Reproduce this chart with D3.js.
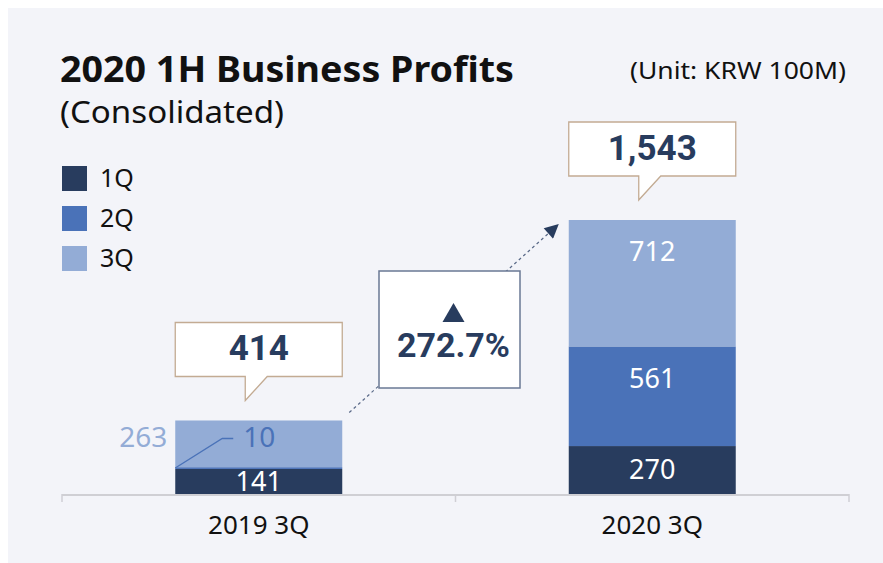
<!DOCTYPE html>
<html>
<head>
<meta charset="utf-8">
<script src="https://cdn.jsdelivr.net/npm/d3@7"></script>
<style>
  html, body { margin: 0; padding: 0; background: #fff; }
  svg { display: block; }
</style>
</head>
<body>
<div id="chart"></div>
<script>
const periods = ["2019 3Q", "2020 3Q"];
const quarters = ["1Q", "2Q", "3Q"];
const q1 = [141, 270];
const q2 = [10, 561];
const q3 = [263, 712];
const totals = ["414", "1,543"];
const growth = "272.7%";
const colors = ["#283c5e", "#4a72b8", "#93acd6"];

const W = 883, H = 563;
const baseY = 494, topY = 220;

const svg = d3.select("#chart").append("svg")
    .attr("width", W)
    .attr("height", H);

svg.append("rect")
    .attr("x", 8).attr("y", 8)
    .attr("width", W - 8).attr("height", H - 8)
    .attr("fill", "#f3f4f9");

const x = d3.scaleBand()
    .domain(periods)
    .range([62, 849])
    .paddingInner(0.5756)
    .paddingOuter(0.2878);

const rows = periods.map((p, i) => ({period: p, "1Q": q1[i], "2Q": q2[i], "3Q": q3[i]}));
const stacked = d3.stack().keys(quarters)(rows);
const maxTotal = d3.max(stacked[stacked.length - 1], d => d[1]);

const y = d3.scaleLinear()
    .domain([0, maxTotal])
    .range([baseY, topY]);

// title block
svg.append("text")
    .attr("x", 60).attr("y", 82)
    .attr("font-family", "Noto Sans")
    .attr("font-weight", 700)
    .attr("font-size", 36)
    .attr("fill", "#111")
    .attr("textLength", 454)
    .attr("lengthAdjust", "spacingAndGlyphs")
    .text("2020 1H Business Profits");

svg.append("text")
    .attr("x", 60).attr("y", 123)
    .attr("font-family", "Noto Sans")
    .attr("font-size", 31)
    .attr("fill", "#111")
    .attr("textLength", 224)
    .attr("lengthAdjust", "spacingAndGlyphs")
    .text("(Consolidated)");

svg.append("text")
    .attr("x", 846).attr("y", 79)
    .attr("text-anchor", "end")
    .attr("font-family", "Noto Sans")
    .attr("font-size", 23)
    .attr("fill", "#111")
    .attr("textLength", 216)
    .attr("lengthAdjust", "spacingAndGlyphs")
    .text("(Unit: KRW 100M)");

// legend
const legend = svg.append("g").attr("transform", "translate(62,166)");
quarters.forEach((q, i) => {
    const g = legend.append("g").attr("transform", `translate(0, ${i * 40})`);
    g.append("rect").attr("width", 25).attr("height", 25).attr("fill", colors[i]);
    g.append("text")
        .attr("x", 38).attr("y", 21)
        .attr("font-family", "Noto Sans")
        .attr("font-size", 25)
        .attr("fill", "#111")
        .text(q);
});

// axis line with ticks at band boundaries
const bounds = [x.range()[0]]
    .concat(periods.slice(1).map(p => x(p) - x.step() * x.paddingInner() / 2))
    .concat([x.range()[1]]);

svg.append("line")
    .attr("x1", x.range()[0]).attr("x2", x.range()[1])
    .attr("y1", baseY + 1).attr("y2", baseY + 1)
    .attr("stroke", "#cfcfd4").attr("stroke-width", 2);

svg.selectAll(".tick")
    .data(bounds)
    .join("line")
    .attr("x1", d => d).attr("x2", d => d)
    .attr("y1", baseY).attr("y2", baseY + 8)
    .attr("stroke", "#cfcfd4").attr("stroke-width", 1.5);

svg.selectAll(".xlab")
    .data(periods)
    .join("text")
    .attr("x", d => x(d) + x.bandwidth() / 2)
    .attr("y", 534)
    .attr("text-anchor", "middle")
    .attr("font-family", "Noto Sans")
    .attr("font-size", 26)
    .attr("fill", "#111")
    .text(d => d);

// stacked bars
const layers = svg.selectAll(".layer")
    .data(stacked)
    .join("g")
    .attr("fill", (d, i) => colors[i]);

layers.selectAll("rect")
    .data(d => d)
    .join("rect")
    .attr("x", d => x(d.data.period))
    .attr("y", d => y(d[1]))
    .attr("width", x.bandwidth())
    .attr("height", d => y(d[0]) - y(d[1]));

// value labels inside segments (2019 upper segments are labelled outside)
stacked.forEach((layer, li) => {
    layer.forEach(d => {
        const h = y(d[0]) - y(d[1]);
        const cx = x(d.data.period) + x.bandwidth() / 2;
        if (h < 50 && li > 0) return;
        const cy = Math.min(y(d[1]) + 32, (y(d[0]) + y(d[1])) / 2);
        svg.append("text")
            .attr("x", cx).attr("y", cy)
            .attr("dy", "0.34em")
            .attr("text-anchor", "middle")
            .attr("font-family", "Noto Sans")
            .attr("font-size", 27)
            .attr("fill", "#fff")
            .text(d.data[layer.key]);
    });
});

// 2019 special labels: 2Q via leader line, 3Q outside the bar
const x0 = x(periods[0]);
const y3 = y(d3.sum([q1[0], q2[0], q3[0]])) + 17;
const y2mid = y(q1[0] + q2[0] / 2);

svg.append("path")
    .attr("d", `M${x0},${y2mid} L${x0 + 47},${y3 + 1} L${x0 + 58},${y3 + 1}`)
    .attr("fill", "none")
    .attr("stroke", colors[1])
    .attr("stroke-width", 1.3);

svg.append("text")
    .attr("x", x0 + 84).attr("y", y3)
    .attr("dy", "0.35em")
    .attr("text-anchor", "middle")
    .attr("font-family", "Noto Sans")
    .attr("font-size", 28)
    .attr("fill", colors[1])
    .text(q2[0]);

svg.append("text")
    .attr("x", x0 - 8).attr("y", y3)
    .attr("dy", "0.35em")
    .attr("text-anchor", "end")
    .attr("font-family", "Noto Sans")
    .attr("font-size", 28)
    .attr("fill", colors[2])
    .text(q3[0]);

// callouts with totals
const topLayer = stacked[stacked.length - 1];
topLayer.forEach((d, i) => {
    const bx = x(d.data.period);
    const bw = x.bandwidth();
    const bottom = y(d[1]) - 44;
    const boxTop = bottom - 54;
    const pl = bx + 70, pr = bx + 92;
    const tip = y(d[1]) - 20;
    svg.append("path")
        .attr("d", `M${bx},${boxTop} H${bx + bw} V${bottom} H${pr} L${pl},${tip} V${bottom} H${bx} Z`)
        .attr("fill", "#fff")
        .attr("stroke", "#c3ab93")
        .attr("stroke-width", 1.3);
    svg.append("text")
        .attr("x", bx + bw / 2).attr("y", boxTop + 38)
        .attr("text-anchor", "middle")
        .attr("font-family", "Roboto")
        .attr("font-weight", 700)
        .attr("font-size", 35)
        .attr("fill", "#283c5e")
        .text(totals[i]);
});

// growth arrow
svg.append("defs").append("marker")
    .attr("id", "head")
    .attr("viewBox", "0 0 10 10")
    .attr("refX", 9).attr("refY", 5)
    .attr("markerWidth", 16).attr("markerHeight", 14)
    .attr("markerUnits", "userSpaceOnUse")
    .attr("orient", "auto")
    .append("path")
    .attr("d", "M0,0 L10,5 L0,10 Z")
    .attr("fill", "#283c5e");

const ax1 = x0 + x.bandwidth() + 7, ay1 = y(topLayer[0][1]) - 8;
const ax2 = x(periods[1]) - 11, ay2 = y(topLayer[1][1]) + 5;
svg.append("line")
    .attr("x1", ax1).attr("y1", ay1)
    .attr("x2", ax2).attr("y2", ay2)
    .attr("stroke", "#5a6a88")
    .attr("stroke-width", 1.2)
    .attr("stroke-dasharray", "3,3")
    .attr("marker-end", "url(#head)");

const gcx = bounds[1] - 6;
svg.append("rect")
    .attr("x", gcx - 70.5).attr("y", 271)
    .attr("width", 141).attr("height", 117)
    .attr("fill", "#fff")
    .attr("stroke", "#6a7894")
    .attr("stroke-width", 1.5);

svg.append("path")
    .attr("d", `M${gcx - 11 + 4},322 L${gcx + 4},303 L${gcx + 11 + 4},322 Z`)
    .attr("fill", "#283c5e");

svg.append("text")
    .attr("x", gcx + 4).attr("y", 357)
    .attr("text-anchor", "middle")
    .attr("font-family", "Roboto")
    .attr("font-weight", 700)
    .attr("font-size", 34)
    .attr("fill", "#283c5e")
    .text(growth);
</script>
</body>
</html>
